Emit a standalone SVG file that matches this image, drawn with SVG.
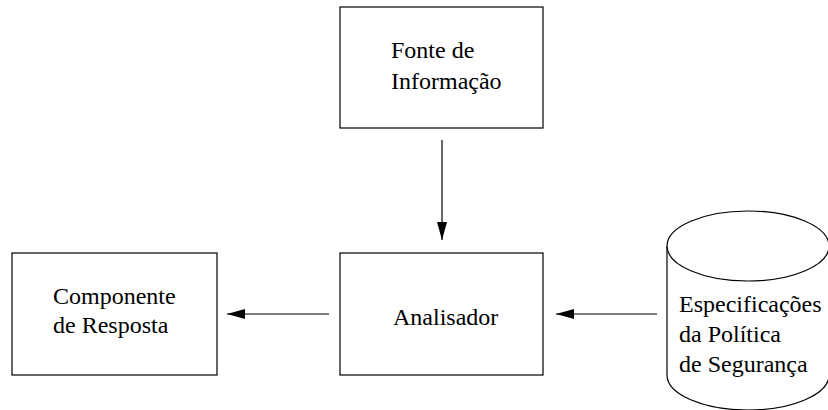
<svg xmlns="http://www.w3.org/2000/svg" width="828" height="410" viewBox="0 0 828 410">
<defs>
<style>
.box{fill:#fff;stroke:#000;stroke-width:1.2}
.lbl{font-family:'Liberation Serif','Times New Roman',Times,serif;font-size:24px;fill:#000}
.con{stroke:#000;stroke-width:1.2;fill:none}
</style>
<marker id="ah" viewBox="0 0 18 10" refX="18" refY="5" markerWidth="18" markerHeight="10" markerUnits="userSpaceOnUse" orient="auto">
<path d="M0,0 L18,5 L0,10 Z" fill="#000"/>
</marker>
</defs>
<rect width="828" height="410" fill="#fff"/>
<g id="fonte">
<rect class="box" x="340" y="7" width="203" height="121"/>
<text class="lbl" font-family="Liberation Serif, serif" x="391" y="58">Fonte de</text>
<text class="lbl" font-family="Liberation Serif, serif" x="391" y="89">Informação</text>
</g>
<g id="analisador">
<rect class="box" x="340" y="253" width="203" height="122"/>
<text class="lbl" font-family="Liberation Serif, serif" x="393" y="325">Analisador</text>
</g>
<g id="componente">
<rect class="box" x="12" y="253" width="205" height="122"/>
<text class="lbl" font-family="Liberation Serif, serif" x="53" y="304">Componente</text>
<text class="lbl" font-family="Liberation Serif, serif" x="53" y="333">de Resposta</text>
</g>
<g id="especificacoes">
<path class="box" d="M667,246 L667,375 A81,35 0 0 0 829,375 L829,246"/>
<ellipse class="box" cx="748" cy="246" rx="81" ry="35"/>
<text class="lbl" font-family="Liberation Serif, serif" x="679" y="312">Especificações</text>
<text class="lbl" font-family="Liberation Serif, serif" x="679" y="342">da Política</text>
<text class="lbl" font-family="Liberation Serif, serif" x="679" y="372">de Segurança</text>
</g>
<g id="connectors">
<line class="con" x1="442" y1="140" x2="442" y2="240" marker-end="url(#ah)"/>
<line class="con" x1="329" y1="314" x2="227" y2="314" marker-end="url(#ah)"/>
<line class="con" x1="657" y1="314" x2="556" y2="314" marker-end="url(#ah)"/>
</g>
</svg>
